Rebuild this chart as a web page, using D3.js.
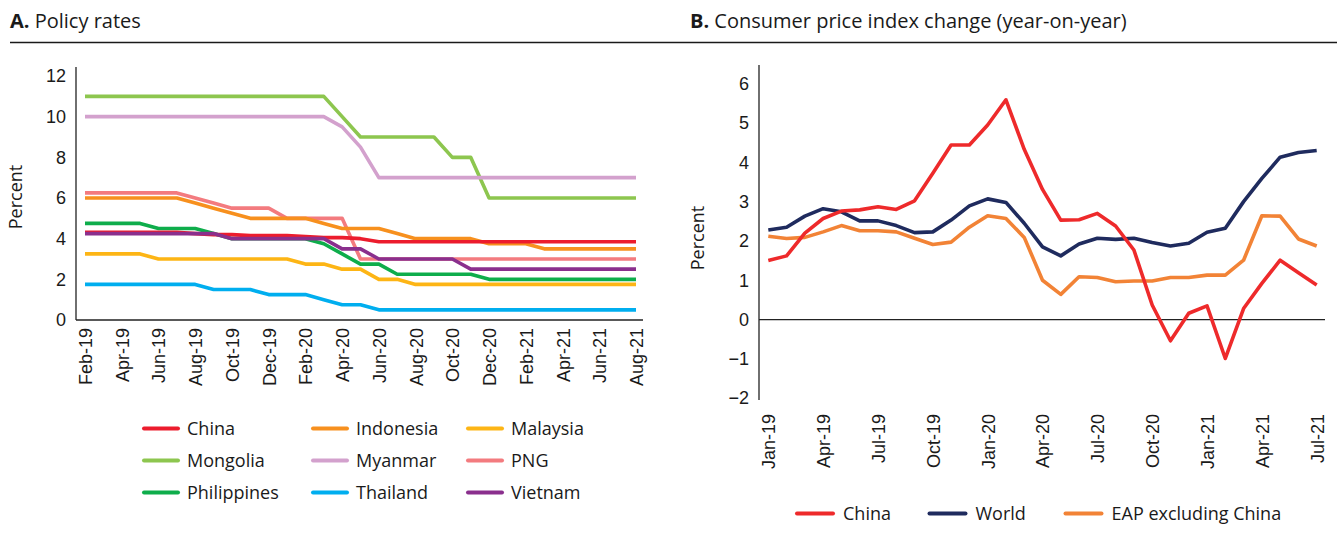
<!DOCTYPE html>
<html>
<head>
<meta charset="utf-8">
<script src="https://cdn.jsdelivr.net/npm/d3@7"></script>
<style>
  body { margin: 0; background: #fff; }
  svg { font-family: "Open Sans", "Noto Sans", sans-serif; fill: #1a1a1a; }
  .tick text { font-size: 18px; fill: #1a1a1a; }
</style>
</head>
<body>
<svg id="chart" width="1337" height="539"></svg>
<script>
// ---- Panel A data: policy rates, Feb-19 .. Aug-21 (monthly)
var monthsA = ['Feb-19','Mar-19','Apr-19','May-19','Jun-19','Jul-19','Aug-19','Sep-19','Oct-19','Nov-19','Dec-19',
  'Jan-20','Feb-20','Mar-20','Apr-20','May-20','Jun-20','Jul-20','Aug-20','Sep-20','Oct-20','Nov-20','Dec-20',
  'Jan-21','Feb-21','Mar-21','Apr-21','May-21','Jun-21','Jul-21','Aug-21'];
var tickLabelsA = ['Feb-19','Apr-19','Jun-19','Aug-19','Oct-19','Dec-19','Feb-20','Apr-20','Jun-20','Aug-20',
  'Oct-20','Dec-20','Feb-21','Apr-21','Jun-21','Aug-21'];
var ticksYA = [0, 2, 4, 6, 8, 10, 12];

var mongolia = [11,11,11,11,11,11,11,11,11,11,11,11,11,11,10,9,9,9,9,9,8,8,6,6,6,6,6,6,6,6,6];
var myanmar = [10,10,10,10,10,10,10,10,10,10,10,10,10,10,9.5,8.5,7,7,7,7,7,7,7,7,7,7,7,7,7,7,7];
var png = [6.25,6.25,6.25,6.25,6.25,6.25,6,5.75,5.5,5.5,5.5,5,5,5,5,3,3,3,3,3,3,3,3,3,3,3,3,3,3,3,3];
var indonesia = [6,6,6,6,6,6,5.75,5.5,5.25,5,5,5,5,4.75,4.5,4.5,4.5,4.25,4,4,4,4,3.75,3.75,3.75,3.5,3.5,3.5,3.5,3.5,3.5];
var philippines = [4.75,4.75,4.75,4.75,4.5,4.5,4.5,4.25,4,4,4,4,4,3.75,3.25,2.75,2.75,2.25,2.25,2.25,2.25,2.25,2,2,2,2,2,2,2,2,2];
var china = [4.31,4.31,4.31,4.31,4.31,4.31,4.25,4.2,4.2,4.15,4.15,4.15,4.1,4.05,4.05,4,3.85,3.85,3.85,3.85,3.85,3.85,3.85,3.85,3.85,3.85,3.85,3.85,3.85,3.85,3.85];
var vietnam = [4.25,4.25,4.25,4.25,4.25,4.25,4.25,4.25,4,4,4,4,4,4,3.5,3.5,3,3,3,3,3,2.5,2.5,2.5,2.5,2.5,2.5,2.5,2.5,2.5,2.5];
var malaysia = [3.25,3.25,3.25,3.25,3,3,3,3,3,3,3,3,2.75,2.75,2.5,2.5,2,2,1.75,1.75,1.75,1.75,1.75,1.75,1.75,1.75,1.75,1.75,1.75,1.75,1.75];
var thailand = [1.75,1.75,1.75,1.75,1.75,1.75,1.75,1.5,1.5,1.5,1.25,1.25,1.25,1,0.75,0.75,0.5,0.5,0.5,0.5,0.5,0.5,0.5,0.5,0.5,0.5,0.5,0.5,0.5,0.5,0.5];

// ---- Panel B data: CPI change, Jan-19 .. Jul-21 (monthly)
var monthsB = ['Jan-19','Feb-19','Mar-19','Apr-19','May-19','Jun-19','Jul-19','Aug-19','Sep-19','Oct-19','Nov-19','Dec-19',
  'Jan-20','Feb-20','Mar-20','Apr-20','May-20','Jun-20','Jul-20','Aug-20','Sep-20','Oct-20','Nov-20','Dec-20',
  'Jan-21','Feb-21','Mar-21','Apr-21','May-21','Jun-21','Jul-21'];
var tickLabelsB = ['Jan-19','Apr-19','Jul-19','Oct-19','Jan-20','Apr-20','Jul-20','Oct-20','Jan-21','Apr-21','Jul-21'];
var ticksYB = [-2, -1, 0, 1, 2, 3, 4, 5, 6];

var cpiChina = [1.5,1.62,2.2,2.57,2.76,2.79,2.87,2.8,3.02,3.72,4.44,4.44,4.95,5.59,4.33,3.31,2.53,2.54,2.7,2.38,1.77,0.37,-0.54,0.16,0.35,-0.99,0.28,0.92,1.51,1.19,0.88];
var cpiWorld = [2.28,2.35,2.63,2.82,2.74,2.51,2.51,2.39,2.21,2.23,2.53,2.89,3.07,2.98,2.45,1.85,1.62,1.92,2.07,2.04,2.07,1.96,1.87,1.94,2.22,2.32,3.0,3.59,4.13,4.25,4.3];
var cpiEap = [2.12,2.06,2.09,2.23,2.39,2.26,2.26,2.23,2.07,1.91,1.97,2.35,2.64,2.57,2.09,1.0,0.64,1.09,1.07,0.96,0.98,0.98,1.07,1.07,1.13,1.13,1.51,2.64,2.63,2.05,1.87];

var seriesA = [
  { name: 'China', values: china, color: '#ec1c2d' },
  { name: 'Indonesia', values: indonesia, color: '#f7901e' },
  { name: 'Malaysia', values: malaysia, color: '#fdb515' },
  { name: 'Mongolia', values: mongolia, color: '#8dc64f' },
  { name: 'Myanmar', values: myanmar, color: '#d3a1cd' },
  { name: 'PNG', values: png, color: '#f37b7f' },
  { name: 'Philippines', values: philippines, color: '#0ead4b' },
  { name: 'Thailand', values: thailand, color: '#00aeef' },
  { name: 'Vietnam', values: vietnam, color: '#8a2f8d' }
];
// draw order: back to front
var drawOrderA = ['Mongolia','Myanmar','PNG','Indonesia','Philippines','China','Vietnam','Malaysia','Thailand'];

var seriesB = [
  { name: 'China', values: cpiChina, color: '#ee2a2b' },
  { name: 'World', values: cpiWorld, color: '#1f2b5e' },
  { name: 'EAP excluding China', values: cpiEap, color: '#f28336' }
];

var svg = d3.select('#chart');

// titles and rule
svg.append('line').attr('x1', 10).attr('x2', 1337).attr('y1', 42.5).attr('y2', 42.5)
  .attr('stroke', '#1a1a1a').attr('stroke-width', 1.5);

function title(x, bold, rest) {
  var t = svg.append('text').attr('x', x).attr('y', 28).style('font-size', '20px');
  t.append('tspan').style('font-weight', 'bold').text(bold);
  t.append('tspan').text(rest);
}
title(10, 'A.', ' Policy rates');
title(690, 'B.', ' Consumer price index change (year-on-year)');

// ---------- Panel A ----------
var xA = d3.scalePoint().domain(monthsA).range([85, 636]);
var yA = d3.scaleLinear().domain([0, 12]).range([320, 76]);

var gA = svg.append('g');

gA.append('g').attr('transform', 'translate(76,0)')
  .call(d3.axisLeft(yA).tickValues(ticksYA).tickSize(0).tickPadding(10))
  .call(function(g) { g.select('.domain').remove(); });

gA.append('line').attr('x1', 76).attr('x2', 76).attr('y1', 67).attr('y2', 320)
  .attr('stroke', '#222').attr('stroke-width', 1.3);

var lineA = d3.line().x(function(d, i) { return xA(monthsA[i]); }).y(function(d) { return yA(d); });

drawOrderA.forEach(function(n) {
  var s = seriesA.find(function(d) { return d.name === n; });
  gA.append('path').datum(s.values)
    .attr('d', lineA).attr('fill', 'none').attr('stroke', s.color)
    .attr('stroke-width', 3.6).attr('stroke-linejoin', 'round');
});

gA.append('line').attr('x1', 76).attr('x2', 643).attr('y1', 320).attr('y2', 320)
  .attr('stroke', '#222').attr('stroke-width', 1.3);

gA.append('g').attr('transform', 'translate(0,320)')
  .call(d3.axisBottom(xA).tickValues(tickLabelsA).tickSize(0))
  .call(function(g) { g.select('.domain').remove(); })
  .selectAll('text')
  .attr('transform', 'rotate(-90)').attr('x', -8).attr('y', 0).attr('dy', '0.36em')
  .style('text-anchor', 'end');

gA.append('text').attr('transform', 'translate(22,197) rotate(-90)')
  .style('text-anchor', 'middle').style('font-size', '18px').text('Percent');

// legend A (3 columns)
var legA = gA.append('g');
seriesA.forEach(function(s, i) {
  var col = i % 3, row = Math.floor(i / 3);
  var lx = [144, 313, 468][col], ly = 428.5 + row * 32;
  legA.append('line').attr('x1', lx).attr('x2', lx + 34).attr('y1', ly).attr('y2', ly)
    .attr('stroke', s.color).attr('stroke-width', 4).attr('stroke-linecap', 'round');
  legA.append('text').attr('x', lx + 43).attr('y', ly).attr('dy', '0.35em')
    .style('font-size', '18px').text(s.name);
});

// ---------- Panel B ----------
var xB = d3.scalePoint().domain(monthsB).range([768.3, 1316.7]);
var yB = d3.scaleLinear().domain([-2, 6.5]).range([398.2, 64]);

var gB = svg.append('g');

gB.append('g').attr('transform', 'translate(759,0)')
  .call(d3.axisLeft(yB).tickValues(ticksYB).tickSize(0).tickPadding(10)
    .tickFormat(function(d) { return d < 0 ? '\u2212' + Math.abs(d) : d; }))
  .call(function(g) { g.select('.domain').remove(); });

gB.append('line').attr('x1', 759).attr('x2', 759).attr('y1', 65).attr('y2', 400)
  .attr('stroke', '#222').attr('stroke-width', 1.3);
gB.append('line').attr('x1', 759).attr('x2', 1325).attr('y1', yB(0)).attr('y2', yB(0))
  .attr('stroke', '#222').attr('stroke-width', 1.3);

var lineB = d3.line().x(function(d, i) { return xB(monthsB[i]); }).y(function(d) { return yB(d); });

[seriesB[2], seriesB[1], seriesB[0]].forEach(function(s) {
  gB.append('path').datum(s.values)
    .attr('d', lineB).attr('fill', 'none').attr('stroke', s.color)
    .attr('stroke-width', 3.6).attr('stroke-linejoin', 'round');
});

gB.append('g').attr('transform', 'translate(0,400)')
  .call(d3.axisBottom(xB).tickValues(tickLabelsB).tickSize(0))
  .call(function(g) { g.select('.domain').remove(); })
  .selectAll('text')
  .attr('transform', 'rotate(-90)').attr('x', -14).attr('y', 0).attr('dy', '0.36em')
  .style('text-anchor', 'end');

gB.append('text').attr('transform', 'translate(704,238) rotate(-90)')
  .style('text-anchor', 'middle').style('font-size', '18px').text('Percent');

var legBx = [797, 929.5, 1065.5];
seriesB.forEach(function(s, i) {
  var lx = legBx[i], ly = 513.5;
  gB.append('line').attr('x1', lx).attr('x2', lx + 36).attr('y1', ly).attr('y2', ly)
    .attr('stroke', s.color).attr('stroke-width', 4).attr('stroke-linecap', 'round');
  gB.append('text').attr('x', lx + 46).attr('y', ly).attr('dy', '0.35em')
    .style('font-size', '18px').text(s.name);
});
</script>
</body>
</html>
